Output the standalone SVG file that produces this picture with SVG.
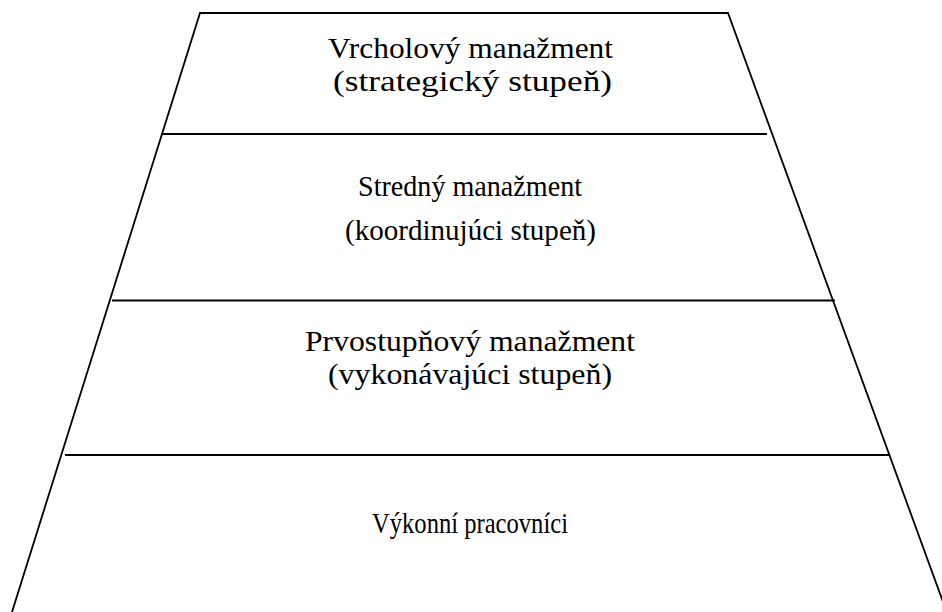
<svg xmlns="http://www.w3.org/2000/svg" width="942" height="612" viewBox="0 0 942 612">
  <style>
    .edge { stroke: #000; stroke-width: 1.8; fill: none; stroke-linecap: butt; }
    .lbl { font-family: "Liberation Serif", "Times New Roman", serif; font-size: 30px; fill: #000; text-anchor: middle; }
  </style>
  <rect x="0" y="0" width="942" height="612" fill="#fff"/>

  <!-- pyramid outline: top edge and the two slanted sides -->
  <g id="outline">
    <path class="edge" d="M 12 612 L 200 13 L 728 13 L 946 610"/>
  </g>

  <!-- dividing lines between the levels -->
  <g id="dividers">
    <line class="edge" x1="162" y1="134" x2="767" y2="134"/>
    <line class="edge" x1="112" y1="300.5" x2="835" y2="300.5"/>
    <line class="edge" x1="65" y1="455" x2="890" y2="455"/>
  </g>

  <g id="level-top">
    <text class="lbl" x="470.5" y="58" textLength="285" lengthAdjust="spacingAndGlyphs">Vrcholový manažment</text>
    <text class="lbl" x="472.5" y="91" textLength="279" lengthAdjust="spacingAndGlyphs">(strategický stupeň)</text>
  </g>

  <g id="level-middle">
    <text class="lbl" x="470" y="196" textLength="224" lengthAdjust="spacingAndGlyphs">Stredný manažment</text>
    <text class="lbl" x="470.5" y="240" textLength="251" lengthAdjust="spacingAndGlyphs">(koordinujúci stupeň)</text>
  </g>

  <g id="level-first">
    <text class="lbl" x="470" y="351" textLength="330" lengthAdjust="spacingAndGlyphs">Prvostupňový manažment</text>
    <text class="lbl" x="470" y="384" textLength="284" lengthAdjust="spacingAndGlyphs">(vykonávajúci stupeň)</text>
  </g>

  <g id="level-workers">
    <text class="lbl" x="470" y="533" textLength="196" lengthAdjust="spacingAndGlyphs">Výkonní pracovníci</text>
  </g>
</svg>
